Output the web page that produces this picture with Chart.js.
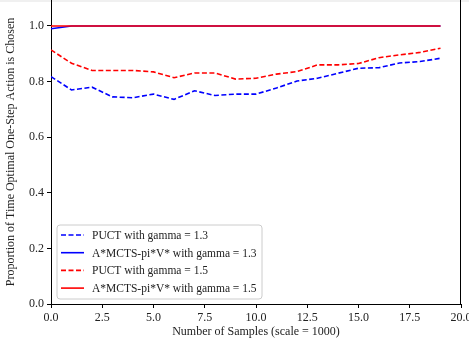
<!DOCTYPE html>
<html>
<head>
<meta charset="utf-8">
<script src="https://cdn.jsdelivr.net/npm/chart.js@4.4.1/dist/chart.umd.min.js"></script>
<style>
  html, body { margin: 0; padding: 0; background: #fff; }
  #wrap { width: 469px; height: 348px; }
</style>
</head>
<body>
<div id="wrap"><canvas id="chart"></canvas></div>
<script>
// samples (x 1000)
const samples = [0, 1, 2, 3, 4, 5, 6, 7, 8, 9, 10, 11, 12, 13, 14, 15, 16, 17, 18, 19];

const puct13 = [0.818, 0.770, 0.780, 0.745, 0.742, 0.755, 0.736, 0.767, 0.750, 0.755,
                0.755, 0.777, 0.802, 0.812, 0.830, 0.848, 0.850, 0.867, 0.872, 0.884];
const astar13 = [0.99, 1, 1, 1, 1, 1, 1, 1, 1, 1, 1, 1, 1, 1, 1, 1, 1, 1, 1, 1];
const puct15 = [0.914, 0.866, 0.840, 0.840, 0.840, 0.835, 0.814, 0.831, 0.831, 0.809,
                0.812, 0.827, 0.836, 0.860, 0.860, 0.865, 0.886, 0.896, 0.905, 0.920];
const astar15 = [1, 1, 1, 1, 1, 1, 1, 1, 1, 1, 1, 1, 1, 1, 1, 1, 1, 1, 1, 1];

const seriesNames = [
    'PUCT with gamma = 1.3',
    'A*MCTS-pi*V* with gamma = 1.3',
    'PUCT with gamma = 1.5',
    'A*MCTS-pi*V* with gamma = 1.5'
];

const FONT = 'Liberation Serif, Times New Roman, serif';
const dash = [5, 2.5];

// order: later series are painted on top
function series(label, values, color, dashed, order) {
    return {
        label: label,
        data: samples.map((x, i) => ({ x: x, y: values[i] })),
        borderColor: color,
        backgroundColor: color,
        borderWidth: 1.6,
        borderDash: dashed ? dash : [],
        pointRadius: 0,
        tension: 0,
        fill: false,
        order: order
    };
}

// legend drawn inside the plot, lower left
const boxLegend = {
    id: 'boxLegend',
    afterDraw(chart) {
        const ctx = chart.ctx;
        const area = chart.chartArea;
        const x0 = area.left + 6, y1 = area.bottom - 5;
        const w = 205, h = 74, y0 = y1 - h;
        ctx.save();
        ctx.beginPath();
        ctx.roundRect(x0, y0, w, h, 3);
        ctx.fillStyle = 'rgba(255,255,255,0.8)';
        ctx.fill();
        ctx.strokeStyle = '#cccccc';
        ctx.lineWidth = 1;
        ctx.stroke();
        ctx.font = '11.5px ' + FONT;
        ctx.textBaseline = 'middle';
        chart.data.datasets.forEach((ds, i) => {
            const y = y0 + 10 + i * 17.7;
            ctx.beginPath();
            ctx.setLineDash(ds.borderDash);
            ctx.strokeStyle = ds.borderColor;
            ctx.lineWidth = 1.6;
            ctx.moveTo(x0 + 4, y);
            ctx.lineTo(x0 + 27, y);
            ctx.stroke();
            ctx.setLineDash([]);
            ctx.fillStyle = '#222';
            ctx.fillText(ds.label, x0 + 35, y + 1);
        });
        ctx.restore();
    }
};

// right frame line + faint band along the top edge
const frame = {
    id: 'frame',
    beforeDraw(chart) {
        const ctx = chart.ctx;
        ctx.save();
        ctx.fillStyle = '#f0f0f0';
        ctx.fillRect(0, 0, chart.width, 2);
        ctx.restore();
    },
    afterDatasetsDraw(chart) {
        const ctx = chart.ctx;
        const a = chart.chartArea;
        ctx.save();
        ctx.strokeStyle = '#000';
        ctx.lineWidth = 1;
        ctx.beginPath();
        ctx.moveTo(a.right - 0.5, a.top);
        ctx.lineTo(a.right - 0.5, a.bottom);
        ctx.stroke();
        ctx.restore();
    }
};

new Chart(document.getElementById('chart'), {
    type: 'line',
    data: {
        datasets: [
            series(seriesNames[0], puct13, '#0000ff', true, 3),
            series(seriesNames[1], astar13, '#0000ff', false, 2),
            series(seriesNames[2], puct15, '#ff0000', true, 1),
            series(seriesNames[3], astar15, '#ff0000', false, 0)
        ]
    },
    options: {
        responsive: true,
        maintainAspectRatio: false,
        animation: false,
        layout: { padding: { top: 0, right: 8, left: 0, bottom: 0 } },
        plugins: {
            legend: { display: false },
            tooltip: { enabled: false }
        },
        scales: {
            x: {
                type: 'linear',
                min: 0,
                max: 20,
                afterFit: s => { s.height = 44; s.paddingLeft = 0; s.paddingRight = 0; },
                ticks: {
                    stepSize: 2.5,
                    color: '#222',
                    font: { family: FONT, size: 12 },
                    padding: 3,
                    maxRotation: 0,
                    callback: v => v.toFixed(1)
                },
                grid: { drawOnChartArea: false, drawTicks: true, tickLength: 4, color: '#000' },
                border: { display: true, color: '#000' },
                title: {
                    display: true,
                    text: 'Number of Samples (scale = 1000)',
                    color: '#222',
                    font: { family: FONT, size: 12 },
                    padding: { top: 0, bottom: 9 }
                }
            },
            y: {
                min: 0,
                max: 1.0935,
                afterFit: s => { s.width = 51; s.paddingTop = 0; s.paddingBottom = 0; },
                ticks: {
                    stepSize: 0.2,
                    includeBounds: false,
                    color: '#222',
                    font: { family: FONT, size: 12 },
                    padding: 3,
                    callback: v => v.toFixed(1)
                },
                grid: { drawOnChartArea: false, drawTicks: true, tickLength: 4, color: '#000' },
                border: { display: true, color: '#000' },
                title: {
                    display: true,
                    text: 'Proportion of Time Optimal One-Step Action is Chosen',
                    color: '#222',
                    font: { family: FONT, size: 12 },
                    padding: { bottom: 1 }
                }
            }
        }
    },
    plugins: [frame, boxLegend]
});
</script>
</body>
</html>
